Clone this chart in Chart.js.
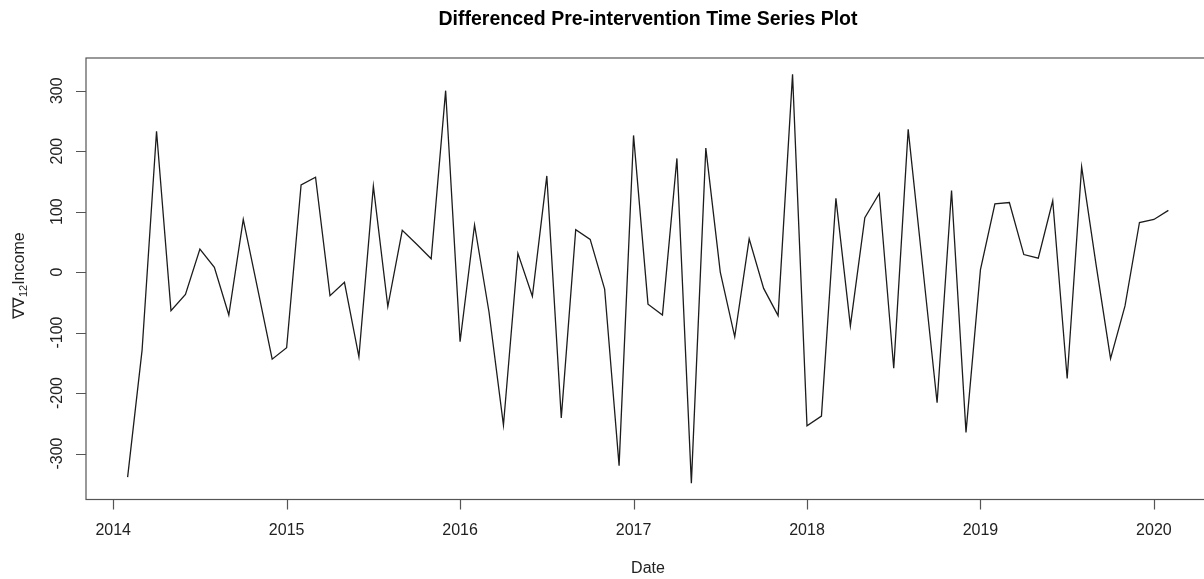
<!DOCTYPE html>
<html>
<head>
<meta charset="utf-8">
<script src="https://cdn.jsdelivr.net/npm/chart.js@4/dist/chart.umd.min.js"></script>
<style>
  html, body { margin: 0; padding: 0; background: #fff; overflow: hidden; }
  #wrap { width: 1204px; height: 579px; overflow: hidden; position: relative; }
  #c { position: absolute; left: 0; top: 0; }
</style>
</head>
<body>
<div id="wrap"><canvas id="c" width="1220" height="579"></canvas></div>
<script>
// Monthly differenced income, series starts February 2014
const startYear = 2014;
const startMonth = 2; // February
const values2014 = [-339, -129, 233, -64, -37, 38, 8, -71, 87, -28, -144];
const values2015 = [-125, 144, 157, -39, -17, -140, 142, -57, 69, 46, 22, 300];
const values2016 = [-115, 78, -66, -253, 31, -40, 159, -241, 70, 54, -28, -320];
const values2017 = [226, -53, -71, 188, -349, 205, 0, -107, 55, -27, -72, 327];
const values2018 = [-254, -238, 122, -89, 90, 130, -159, 236, 10, -216, 135, -265];
const values2019 = [4, 113, 115, 29, 23, 118, -176, 174, 12, -143, -56, 82];
const values2020 = [87, 102];

const xTicks = [2014, 2015, 2016, 2017, 2018, 2019, 2020];
const yTicks = [-300, -200, -100, 0, 100, 200, 300];

const titleText = 'Differenced Pre-intervention Time Series Plot';
const xLabel = 'Date';

const allValues = [].concat(values2014, values2015, values2016, values2017,
                            values2018, values2019, values2020);
const points = allValues.map((v, i) => ({
  x: startYear + (startMonth - 1 + i) / 12,
  y: v
}));

// axis ranges padded by 4% like base R graphics
const xs = points.map(p => p.x), ys = points.map(p => p.y);
const xMin = Math.min(...xs), xMax = Math.max(...xs);
const yMin = Math.min(...ys), yMax = Math.max(...ys);
const xPad = (xMax - xMin) * 0.04, yPad = (yMax - yMin) * 0.04;

const FONT = '"Liberation Sans", Arial, Helvetica, sans-serif';

const baseAxes = {
  id: 'baseAxes',
  afterDraw(chart) {
    const ctx = chart.ctx;
    const a = chart.chartArea;
    const xs = chart.scales.x, ys = chart.scales.y;
    ctx.save();

    // plot frame
    ctx.strokeStyle = '#555';
    ctx.lineWidth = 1.2;
    ctx.strokeRect(a.left, a.top, a.right - a.left, a.bottom - a.top);

    // x axis ticks and labels
    ctx.fillStyle = '#222';
    ctx.font = '16px ' + FONT;
    ctx.textAlign = 'center';
    ctx.textBaseline = 'middle';
    ctx.beginPath();
    xTicks.forEach(t => {
      const px = Math.round(xs.getPixelForValue(t)) + 0.5;
      ctx.moveTo(px, a.bottom);
      ctx.lineTo(px, a.bottom + 10);
    });
    ctx.stroke();
    xTicks.forEach(t => {
      ctx.fillText(String(t), xs.getPixelForValue(t), 531);
    });

    // y axis ticks and rotated labels
    ctx.beginPath();
    yTicks.forEach(t => {
      const py = Math.round(ys.getPixelForValue(t)) + 0.5;
      ctx.moveTo(a.left - 10, py);
      ctx.lineTo(a.left, py);
    });
    ctx.stroke();
    yTicks.forEach(t => {
      const py = ys.getPixelForValue(t);
      ctx.save();
      ctx.translate(58, py);
      ctx.rotate(-Math.PI / 2);
      ctx.fillText(String(t), 0, 0);
      ctx.restore();
    });

    // x axis title
    const cx = (a.left + a.right) / 2;
    ctx.fillText(xLabel, cx, 569);

    // y axis title: nabla nabla_12 Income
    const cy = (a.top + a.bottom) / 2;
    ctx.save();
    ctx.translate(18, cy - 3);
    ctx.rotate(-Math.PI / 2);
    ctx.textAlign = 'left';
    ctx.textBaseline = 'alphabetic';
    const big = '16px ' + FONT, small = '11px ' + FONT;
    ctx.font = big; const w1 = ctx.measureText('\u2207\u2207').width;
    ctx.font = small; const w2 = ctx.measureText('12').width;
    ctx.font = big; const w3 = ctx.measureText('Income').width;
    let x0 = -(w1 + w2 + w3) / 2;
    const base = 6;
    ctx.font = big; ctx.fillText('\u2207\u2207', x0, base); x0 += w1;
    ctx.font = small; ctx.fillText('12', x0, base + 3); x0 += w2;
    ctx.font = big; ctx.fillText('Income', x0, base);
    ctx.restore();

    // main title
    ctx.fillStyle = '#000';
    ctx.font = 'bold 19.5px ' + FONT;
    ctx.textAlign = 'center';
    ctx.fillText(titleText, cx, 20);

    ctx.restore();
  }
};

new Chart(document.getElementById('c'), {
  type: 'line',
  data: {
    datasets: [{
      data: points,
      borderColor: '#1c1c1c',
      borderWidth: 1.3,
      pointRadius: 0,
      tension: 0,
      fill: false
    }]
  },
  options: {
    responsive: false,
    animation: false,
    parsing: true,
    layout: { padding: { left: 86, top: 58, right: 10, bottom: 79.5 } },
    scales: {
      x: { type: 'linear', display: false, min: xMin - xPad, max: xMax + xPad },
      y: { type: 'linear', display: false, min: yMin - yPad, max: yMax + yPad }
    },
    plugins: {
      legend: { display: false },
      tooltip: { enabled: false },
      title: { display: false }
    }
  },
  plugins: [baseAxes]
});
</script>
</body>
</html>
